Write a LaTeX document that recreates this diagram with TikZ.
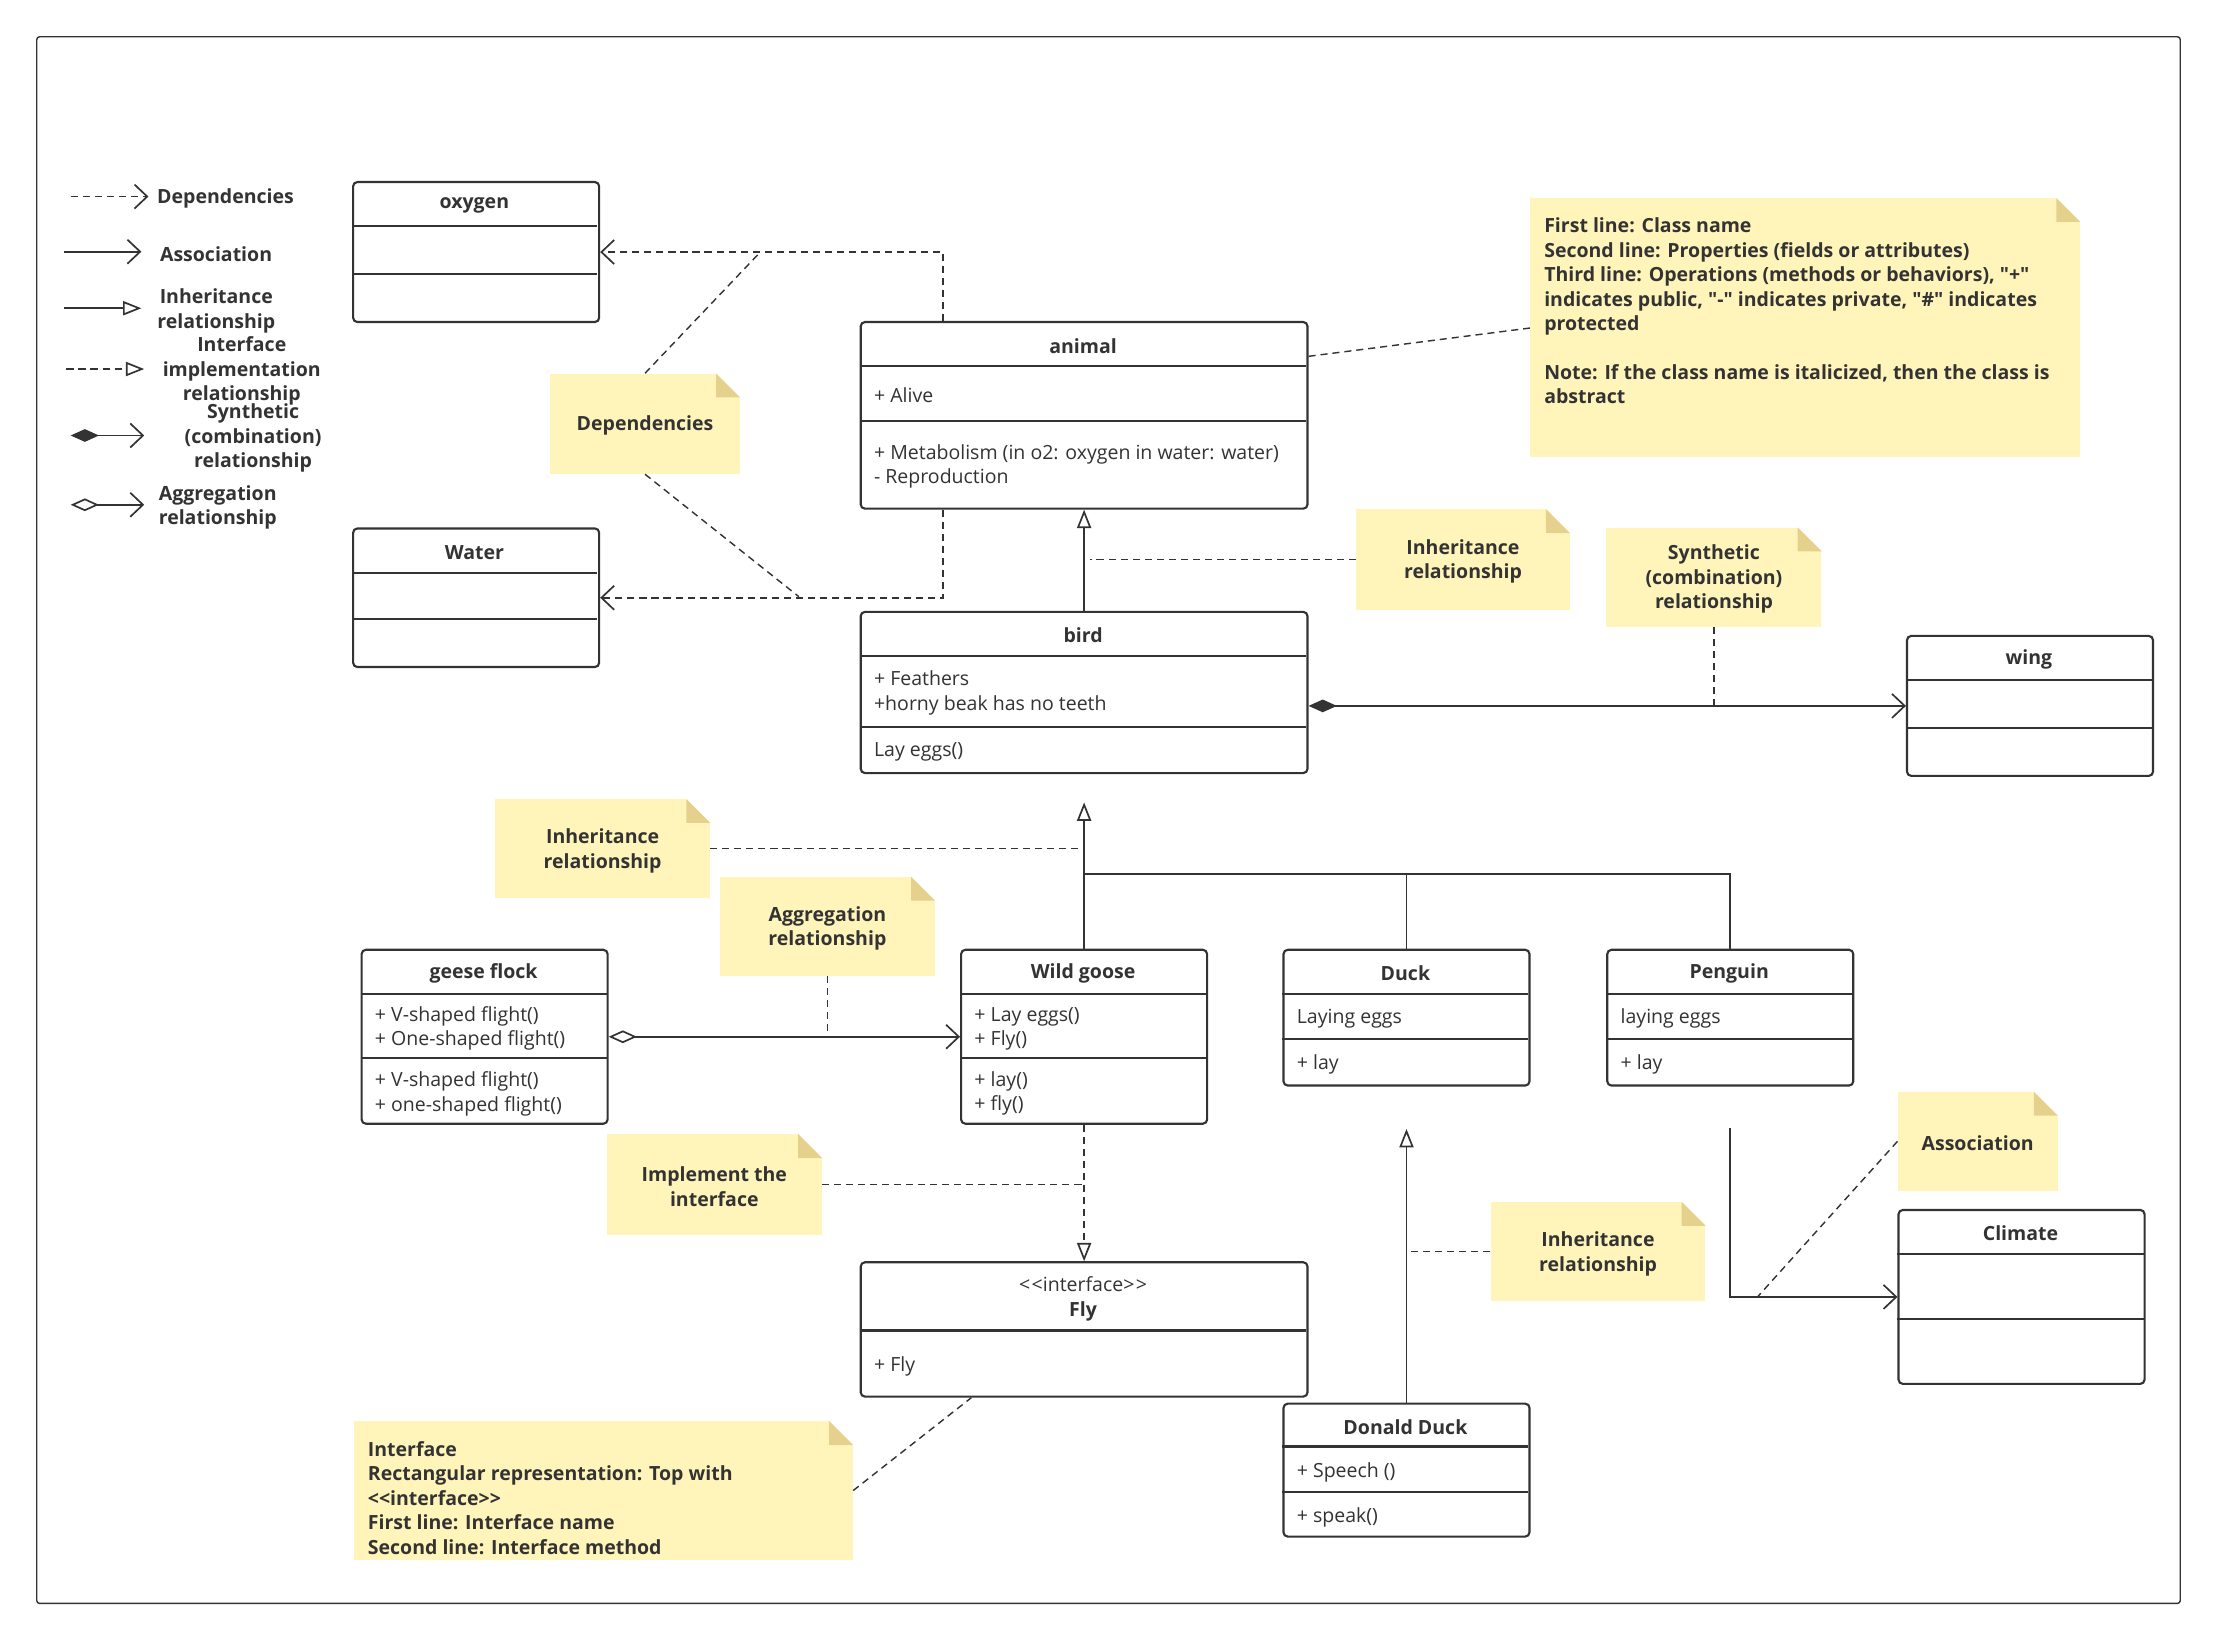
\documentclass[tikz,border=0pt]{standalone}
\usepackage{fontspec}
\setmainfont{Open Sans}[Ligatures=TeXOff]
\usetikzlibrary{arrows.meta}
\definecolor{ink}{HTML}{333333}
\definecolor{notefill}{HTML}{FFF5BB}
\definecolor{foldfill}{HTML}{E6D18C}
\newcommand\txtsize{\fontsize{13.8}{17.3}\selectfont}
\tikzset{
 clsbox/.style={draw=ink, line width=1.5pt, rounded corners=3pt, inner sep=0pt, fill=white},
 clsline/.style={draw=ink, line width=1.5pt},
 ttl/.style={font=\txtsize\bfseries, text=ink, inner sep=0pt, align=center, yshift=-1.5pt},
 fld/.style={font=\txtsize, text=ink, inner sep=0pt, anchor=west, align=left, yshift=-1.5pt},
 notebg/.style={fill=notefill, inner sep=0pt},
 notetxt/.style={font=\txtsize\bfseries, text=ink, inner sep=0pt, align=center, yshift=-1.5pt},
 conn/.style={draw=ink, line width=1.2pt},
 dashc/.style={conn, dash pattern=on 5pt off 3.5pt},
 notelink/.style={draw=ink, line width=1pt, dash pattern=on 5pt off 3.5pt},
 barb/.style={-{Straight Barb[length=9pt,width=17pt,line width=1.2pt]}},
 tri/.style={-{Triangle[open,length=13pt,width=10pt,line width=1.2pt]}},
 fdiam/.style={{Diamond[length=20pt,width=9pt,fill=ink]}-{Straight Barb[length=9pt,width=17pt,line width=1.2pt]}},
 odiam/.style={{Diamond[open,length=20pt,width=9pt,line width=1.2pt]}-{Straight Barb[length=9pt,width=17pt,line width=1.2pt]}},
}
\newcommand\mkcls[5]{\node[clsbox, anchor=north west, minimum width=#4pt, minimum height=#5pt] (#1) at (#2,#3) {};}
\newcommand\mknote[5]{%
 \node[notebg, anchor=north west, minimum width=#4pt, minimum height=#5pt] (#1) at (#2,#3) {};
 \fill[white] ([xshift=-17pt]#1.north east) -- (#1.north east) -- ([yshift=-17pt]#1.north east) -- cycle;
 \fill[foldfill] ([xshift=-17pt]#1.north east) -- ([xshift=-17pt,yshift=-17pt]#1.north east) -- ([yshift=-17pt]#1.north east) -- cycle;}
\begin{document}
\begin{tikzpicture}[x=1pt,y=-1pt]
\useasboundingbox (0,0) rectangle (1568,1160);
\fill[white] (0,0) rectangle (1568,1160);
\draw[ink, line width=1pt, rounded corners=2pt] (26,26) rectangle (1542,1134);

% ---------- legend ----------
\coordinate (l1a) at (50,139); \coordinate (l1b) at (105,139);
\draw[dashc, barb] (l1a) -- (l1b);
\node[notetxt, anchor=west] (l1t) at (111,139) {Dependencies};
\coordinate (l2a) at (45,178); \coordinate (l2b) at (100,178);
\draw[conn, barb] (l2a) -- (l2b);
\node[notetxt, anchor=west] (l2t) at (113,178) {Association};
\coordinate (l3a) at (45,218); \coordinate (l3b) at (100,218);
\draw[conn, tri] (l3a) -- (l3b);
\node[notetxt] (l3t) at (153,218.5) {Inheritance\\relationship};
\coordinate (l4a) at (47,261); \coordinate (l4b) at (102,261);
\draw[dashc, tri] (l4a) -- (l4b);
\node[notetxt] (l4t) at (171,261) {Interface\\implementation\\relationship};
\coordinate (l5a) at (50,308); \coordinate (l5b) at (102,308);
\draw[conn, fdiam] (l5a) -- (l5b);
\node[notetxt] (l5t) at (179,308.5) {Synthetic\\(combination)\\relationship};
\coordinate (l6a) at (50,357); \coordinate (l6b) at (102,357);
\draw[conn, odiam] (l6a) -- (l6b);
\node[notetxt] (l6t) at (154,357.5) {Aggregation\\relationship};

% ---------- notes ----------
\mknote{depn}{389}{264}{134}{71}
\node[notetxt] (depnT) at (depn.center) {Dependencies};
\mknote{bign}{1082}{140}{389}{183}
\node[fld, font=\txtsize\bfseries] (bignT) at (1092,218.5) {First line: Class name\\Second line: Properties (fields or attributes)\\Third line: Operations (methods or behaviors), "+"\\indicates public, "-" indicates private, "\#" indicates\\protected\\[17.3pt]Note: If the class name is italicized, then the class is\\abstract};
\mknote{inh1}{959}{360}{151}{71}
\node[notetxt] (inh1T) at (inh1.center) {Inheritance\\relationship};
\mknote{syn}{1136}{373}{152}{70}
\node[notetxt] (synT) at (syn.center) {Synthetic\\(combination)\\relationship};
\mknote{inh2}{350}{565}{152}{70}
\node[notetxt] (inh2T) at (inh2.center) {Inheritance\\relationship};
\mknote{aggn}{509}{620}{152}{70}
\node[notetxt] (aggnT) at (aggn.center) {Aggregation\\relationship};
\mknote{impl}{429}{802}{152}{71}
\node[notetxt] (implT) at (impl.center) {Implement the\\interface};
\mknote{ifn}{250}{1005}{353}{98}
\node[fld, font=\txtsize\bfseries] (ifnT) at (260,1058) {Interface\\Rectangular representation: Top with\\<<interface>>\\First line: Interface name\\Second line: Interface method};
\mknote{inh3}{1054}{850}{152}{70}
\node[notetxt] (inh3T) at (inh3.center) {Inheritance\\relationship};
\mknote{asn}{1342}{772}{113}{70}
\node[notetxt] (asnT) at (asn.center) {Association};

% ---------- classes ----------
\mkcls{oxygen}{249}{128}{174}{99}
\draw[clsline] (249,160) -- (422,160); \draw[clsline] (249,194) -- (422,194);
\node[ttl] (oxygenT) at (335.5,144) {oxygen};

\mkcls{water}{249}{373}{174}{98}
\draw[clsline] (249,405) -- (422,405); \draw[clsline] (249,438) -- (422,438);
\node[ttl] (waterT) at (335.5,389) {Water};

\mkcls{animal}{608}{227}{316}{132}
\draw[clsline] (608,259) -- (924,259); \draw[clsline] (608,298) -- (924,298);
\node[ttl] (animalT) at (766,243) {animal};
\node[fld] (animalF) at (618,278) {+ Alive};
\node[fld] (animalM) at (618,328.5) {+ Metabolism (in o2: oxygen in water: water)\\- Reproduction};

\mkcls{bird}{608}{432}{316}{114}
\draw[clsline] (608,464) -- (924,464); \draw[clsline] (608,514) -- (924,514);
\node[ttl] (birdT) at (766,448) {bird};
\node[fld] (birdF) at (618,488.5) {+ Feathers\\+horny beak has no teeth};
\node[fld] (birdM) at (618,530) {Lay eggs()};

\mkcls{wing}{1348}{449}{174}{99}
\draw[clsline] (1348,481) -- (1522,481); \draw[clsline] (1348,515) -- (1522,515);
\node[ttl] (wingT) at (1435,465) {wing};

\mkcls{geese}{255}{671}{174}{123}
\draw[clsline] (255,703) -- (429,703); \draw[clsline] (255,748) -- (429,748);
\node[ttl] (geeseT) at (342,687) {geese flock};
\node[fld] (geeseF) at (265,726) {+ V-shaped flight()\\+ One-shaped flight()};
\node[fld] (geeseM) at (265,772) {+ V-shaped flight()\\+ one-shaped flight()};

\mkcls{goose}{679}{671}{174}{123}
\draw[clsline] (679,703) -- (853,703); \draw[clsline] (679,748) -- (853,748);
\node[ttl] (gooseT) at (766,687) {Wild goose};
\node[fld] (gooseF) at (689,726) {+ Lay eggs()\\+ Fly()};
\node[fld] (gooseM) at (689,772) {+ lay()\\+ fly()};

\mkcls{duck}{907}{671}{174}{96}
\draw[clsline] (907,703) -- (1081,703); \draw[clsline] (907,735) -- (1081,735);
\node[ttl] (duckT) at (994,687) {Duck};
\node[fld] (duckF) at (917,719) {Laying eggs};
\node[fld] (duckM) at (917,751) {+ lay};

\mkcls{penguin}{1136}{671}{174}{96}
\draw[clsline] (1136,703) -- (1310,703); \draw[clsline] (1136,735) -- (1310,735);
\node[ttl] (penguinT) at (1223,687) {Penguin};
\node[fld] (penguinF) at (1146,719) {laying eggs};
\node[fld] (penguinM) at (1146,751) {+ lay};

\mkcls{fly}{608}{892}{316}{95}
\draw[clsline] (608,941) -- (924,941);
\node[ttl] (flyT) at (766,917) {\mdseries <\kern1pt<interface>\kern1pt>\\Fly};
\node[fld] (flyM) at (618,965) {+ Fly};

\mkcls{donald}{907}{992}{174}{94}
\draw[clsline] (907,1023) -- (1081,1023); \draw[clsline] (907,1055) -- (1081,1055);
\node[ttl] (donaldT) at (994,1008) {Donald Duck};
\node[fld] (donaldF) at (917,1040) {+ Speech ()};
\node[fld] (donaldM) at (917,1072) {+ speak()};

\mkcls{climate}{1342}{855}{174}{123}
\draw[clsline] (1342,887) -- (1516,887); \draw[clsline] (1342,933) -- (1516,933);
\node[ttl] (climateT) at (1429,871) {Climate};

% ---------- connectors ----------
\draw[dashc, barb] ([xshift=59pt]animal.north west) |- (oxygen.east);
\draw[dashc, barb] ([xshift=59pt]animal.south west) |- (water.east);
\coordinate (dep1) at (538,178); \coordinate (dep2) at (565,422);
\draw[notelink] (depn.north) -- (dep1);
\draw[notelink] (depn.south) -- (dep2);
\draw[notelink] ([yshift=-25pt]animal.north east) -- ([yshift=-92pt]bign.north west);

\draw[conn, tri] (bird.north) -- (animal.south);
\draw[notelink] (inh1.west) -- ([xshift=4pt]inh1.west -| bird.north);

\draw[conn, fdiam] (wing.west -| bird.east) -- (wing.west);
\draw[notelink] (syn.south) -- (syn.south |- wing.west);

\draw[conn, tri] (goose.north) -- ([yshift=-20pt]bird.south);
\coordinate (tj) at (766,618);
\draw[conn] (tj) -| (penguin.north);
\draw[conn] (duck.north) -- (duck.north |- tj);
\draw[notelink] (inh2.east) -- (inh2.east -| goose.north);

\draw[conn, odiam] (geese.east) -- (goose.west);
\draw[notelink] (aggn.south) -- (aggn.south |- goose.west);

\draw[dashc, tri] (goose.south) -- (fly.north);
\draw[notelink] (impl.east) -- (impl.east -| goose.south);

\draw[notelink] (ifn.east) -- ([xshift=79pt]fly.south west);

\draw[conn, tri] (donald.north) -- ([yshift=-30pt]duck.south);
\draw[notelink] (inh3.west) -- (inh3.west -| donald.north);

\draw[conn, barb] ([yshift=-29pt]penguin.south) |- (climate.west);
\draw[notelink] (asn.west) -- ([xshift=-99pt]climate.west);
\end{tikzpicture}
\end{document}
